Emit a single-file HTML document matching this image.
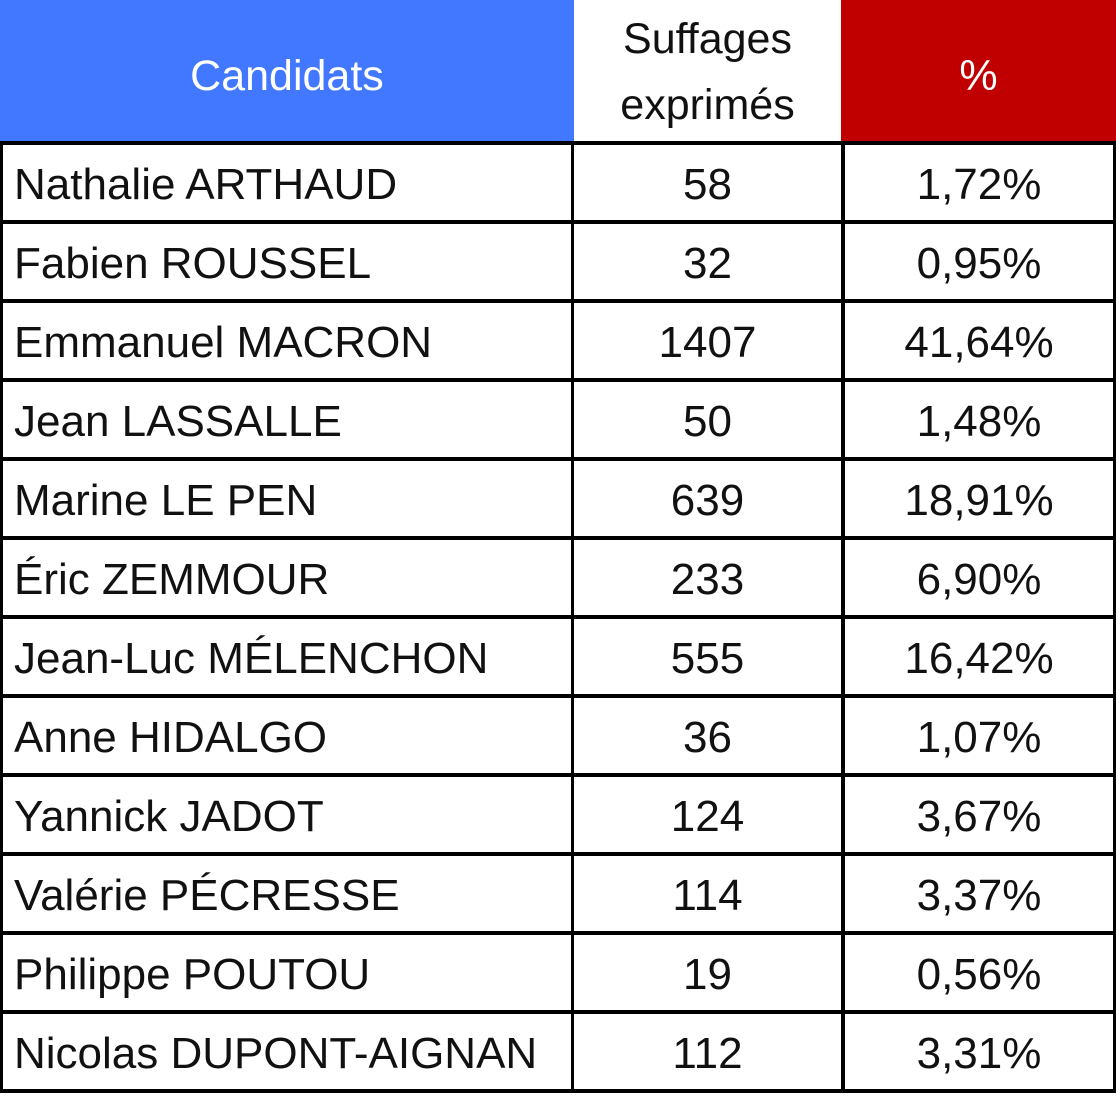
<!DOCTYPE html>
<html><head><meta charset="utf-8"><style>
body{margin:0;width:1116px;height:1096px;background:#fff;position:relative;overflow:hidden;font-family:"Liberation Sans",sans-serif;}
.a{position:absolute;}
.h{background:#000;}
.t{position:absolute;font-size:44px;line-height:79px;height:75px;color:#111;white-space:nowrap;}
.c1{left:14px;}
.c2{left:574px;width:267px;text-align:center;}
.c3{left:845px;width:268px;text-align:center;}
</style></head><body>
<div class="a" style="left:0;top:0;width:574px;height:143px;background:#4178ff"></div>
<div class="a" style="left:841px;top:0;width:275px;height:143px;background:#c00000"></div>
<div class="a" style="left:0;top:5px;width:574px;height:143px;color:#fff;font-size:43px;line-height:143px;text-align:center">Candidats</div>
<div class="a" style="left:574px;top:6px;width:267px;color:#111;font-size:43px;line-height:66px;text-align:center">Suffages<br>exprimés</div>
<div class="a" style="left:841px;top:5px;width:275px;height:143px;color:#fff;font-size:43px;line-height:143px;text-align:center">%</div>
<div class="a h" style="left:0;top:141px;width:1116px;height:4px"></div>
<div class="a h" style="left:0;top:141px;width:3px;height:952px"></div>
<div class="a h" style="left:571px;top:141px;width:3px;height:952px"></div>
<div class="a h" style="left:841px;top:141px;width:4px;height:952px"></div>
<div class="a h" style="left:1113px;top:141px;width:3px;height:952px"></div>
<div id="rows"></div>
<script>
var d=[["Nathalie ARTHAUD","58","1,72%"],["Fabien ROUSSEL","32","0,95%"],["Emmanuel MACRON","1407","41,64%"],["Jean LASSALLE","50","1,48%"],["Marine LE PEN","639","18,91%"],["Éric ZEMMOUR","233","6,90%"],["Jean-Luc MÉLENCHON","555","16,42%"],["Anne HIDALGO","36","1,07%"],["Yannick JADOT","124","3,67%"],["Valérie PÉCRESSE","114","3,37%"],["Philippe POUTOU","19","0,56%"],["Nicolas DUPONT-AIGNAN","112","3,31%"]];
var h="";
for(var i=0;i<12;i++){var y=145+79*i;
h+='<div class="t c1" style="top:'+y+'px">'+d[i][0]+'</div><div class="t c2" style="top:'+y+'px">'+d[i][1]+'</div><div class="t c3" style="top:'+y+'px">'+d[i][2]+'</div>';
h+='<div class="a h" style="left:0;top:'+(220+79*i)+'px;width:1116px;height:4px"></div>';}
document.getElementById("rows").innerHTML=h;
</script>
</body></html>
